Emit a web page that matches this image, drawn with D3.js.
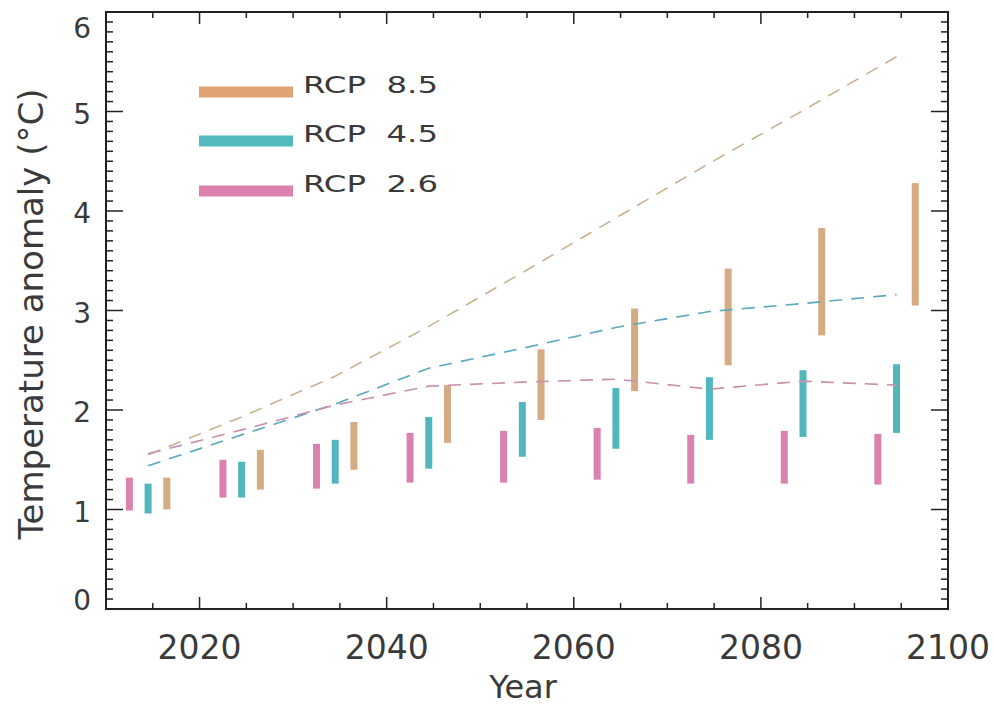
<!DOCTYPE html>
<html>
<head>
<meta charset="utf-8">
<script src="https://cdn.jsdelivr.net/npm/d3@7/dist/d3.min.js"></script>
<style>
  html, body { margin: 0; padding: 0; background: #fff; }
  svg { display: block; font-family: "DejaVu Sans", sans-serif; }
</style>
</head>
<body>
<div id="chart"></div>
<script>
// decade groups (bars sit inside each decade)
const decades = [2010, 2020, 2030, 2040, 2050, 2060, 2070, 2080, 2090];
const meanYears = [2014.5, 2024.5, 2034.5, 2044.5, 2054.5, 2064.5, 2074.5, 2084.5, 2094.5];

const rcp26Low  = [0.99, 1.12, 1.21, 1.27, 1.27, 1.30, 1.26, 1.26, 1.25];
const rcp26High = [1.32, 1.50, 1.66, 1.77, 1.79, 1.82, 1.75, 1.79, 1.76];
const rcp45Low  = [0.96, 1.12, 1.26, 1.41, 1.53, 1.61, 1.70, 1.73, 1.77];
const rcp45High = [1.26, 1.48, 1.70, 1.93, 2.08, 2.22, 2.33, 2.40, 2.46];
const rcp85Low  = [1.00, 1.20, 1.40, 1.67, 1.90, 2.19, 2.45, 2.75, 3.05];
const rcp85High = [1.32, 1.60, 1.88, 2.25, 2.61, 3.02, 3.42, 3.83, 4.28];

const rcp26Mean = [1.56, 1.80, 2.05, 2.24, 2.28, 2.31, 2.21, 2.29, 2.25];
const rcp45Mean = [1.44, 1.75, 2.06, 2.42, 2.62, 2.83, 2.99, 3.07, 3.16];
const rcp85Mean = [1.55, 1.93, 2.34, 2.84, 3.38, 3.93, 4.48, 5.01, 5.55];

const seriesNames = ["RCP 8.5", "RCP 4.5", "RCP 2.6"];
const xTickLabels = [2020, 2040, 2060, 2080, 2100];
const yTickLabels = [0, 1, 2, 3, 4, 5, 6];

const W = 994, H = 706;
const svg = d3.select("#chart").append("svg").attr("width", W).attr("height", H);

const x = d3.scaleLinear().domain([2010, 2100]).range([106, 948]);
const y = d3.scaleLinear().domain([0, 6]).range([609, 12]);

const series = [
  { name: "RCP 2.6", low: rcp26Low, high: rcp26High, mean: rcp26Mean, off: 2.5, bar: "#d982af", line: "#c88fae", leg: "#dc80ad" },
  { name: "RCP 4.5", low: rcp45Low, high: rcp45High, mean: rcp45Mean, off: 4.5, bar: "#52b7bd", line: "#5aa8bd", leg: "#52b9be" },
  { name: "RCP 8.5", low: rcp85Low, high: rcp85High, mean: rcp85Mean, off: 6.5, bar: "#d5ab84", line: "#c9b293", leg: "#e0a472" }
];

// bars
series.forEach(s => {
  svg.append("g").selectAll("rect")
    .data(decades.map((d, i) => ({ yr: d + s.off, lo: s.low[i], hi: s.high[i] })))
    .join("rect")
    .attr("x", d => x(d.yr) - 3.5)
    .attr("width", 7)
    .attr("y", d => y(d.hi))
    .attr("height", d => y(d.lo) - y(d.hi))
    .attr("fill", s.bar);
});

// dashed mean lines
const line = d3.line().x(d => x(d[0])).y(d => y(d[1]));
series.slice().reverse().forEach(s => {
  svg.append("path")
    .datum(meanYears.map((yr, i) => [yr, s.mean[i]]))
    .attr("d", line)
    .attr("fill", "none")
    .attr("stroke", s.line)
    .attr("stroke-width", 1.6)
    .attr("stroke-dasharray", "13,9");
});

// frame + ticks
const axisCol = "#222";
svg.append("rect")
  .attr("x", x(2010)).attr("y", y(6))
  .attr("width", x(2100) - x(2010)).attr("height", y(0) - y(6))
  .attr("fill", "none").attr("stroke", axisCol).attr("stroke-width", 2);

const ticks = svg.append("g").attr("stroke", axisCol).attr("stroke-width", 1.5);
d3.range(2015, 2100, 5).forEach(t => {
  const len = t % 20 === 0 ? 12 : 6;
  ticks.append("line").attr("x1", x(t)).attr("x2", x(t)).attr("y1", y(0)).attr("y2", y(0) - len);
  ticks.append("line").attr("x1", x(t)).attr("x2", x(t)).attr("y1", y(6)).attr("y2", y(6) + len);
});
d3.range(1, 60).forEach(k => {
  const v = k / 10;
  const len = k % 10 === 0 ? 17 : 7;
  ticks.append("line").attr("x1", x(2010)).attr("x2", x(2010) + len).attr("y1", y(v)).attr("y2", y(v));
  ticks.append("line").attr("x1", x(2100)).attr("x2", x(2100) - len).attr("y1", y(v)).attr("y2", y(v));
});

// tick labels
const txtCol = "#3a3a3a";
svg.append("g").selectAll("text")
  .data(xTickLabels)
  .join("text")
  .attr("x", d => x(d))
  .attr("y", 659)
  .attr("text-anchor", "middle")
  .attr("fill", txtCol)
  .style("font-size", "33px")
  .text(d => d);

svg.append("g").selectAll("text")
  .data(yTickLabels)
  .join("text")
  .attr("x", 91)
  .attr("y", d => Math.max(28, Math.min(600, y(d) + 2)))
  .attr("dy", "0.36em")
  .attr("text-anchor", "end")
  .attr("fill", txtCol)
  .style("font-size", "28px")
  .text(d => d);

// axis titles
svg.append("text")
  .attr("x", 523).attr("y", 698)
  .attr("text-anchor", "middle")
  .attr("fill", txtCol)
  .style("font-size", "32px")
  .text("Year");

svg.append("text")
  .attr("transform", "translate(43,314) rotate(-90)")
  .attr("text-anchor", "middle")
  .attr("fill", txtCol)
  .style("font-size", "34px")
  .text("Temperature anomaly (°C)");

// legend
const legY = [92, 141, 191];
const legSeries = seriesNames.map(n => series.find(s => s.name === n));
const leg = svg.append("g");
legSeries.forEach((s, i) => {
  leg.append("line")
    .attr("x1", 199).attr("x2", 293)
    .attr("y1", legY[i]).attr("y2", legY[i])
    .attr("stroke", s.leg).attr("stroke-width", 11);
  leg.append("text")
    .attr("x", 303).attr("y", legY[i] + 1)
    .attr("fill", txtCol)
    .attr("textLength", 135)
    .attr("lengthAdjust", "spacingAndGlyphs")
    .style("font-size", "23px")
    .style("white-space", "pre")
    .text(s.name.replace(" ", "  "));
});
</script>
</body>
</html>
